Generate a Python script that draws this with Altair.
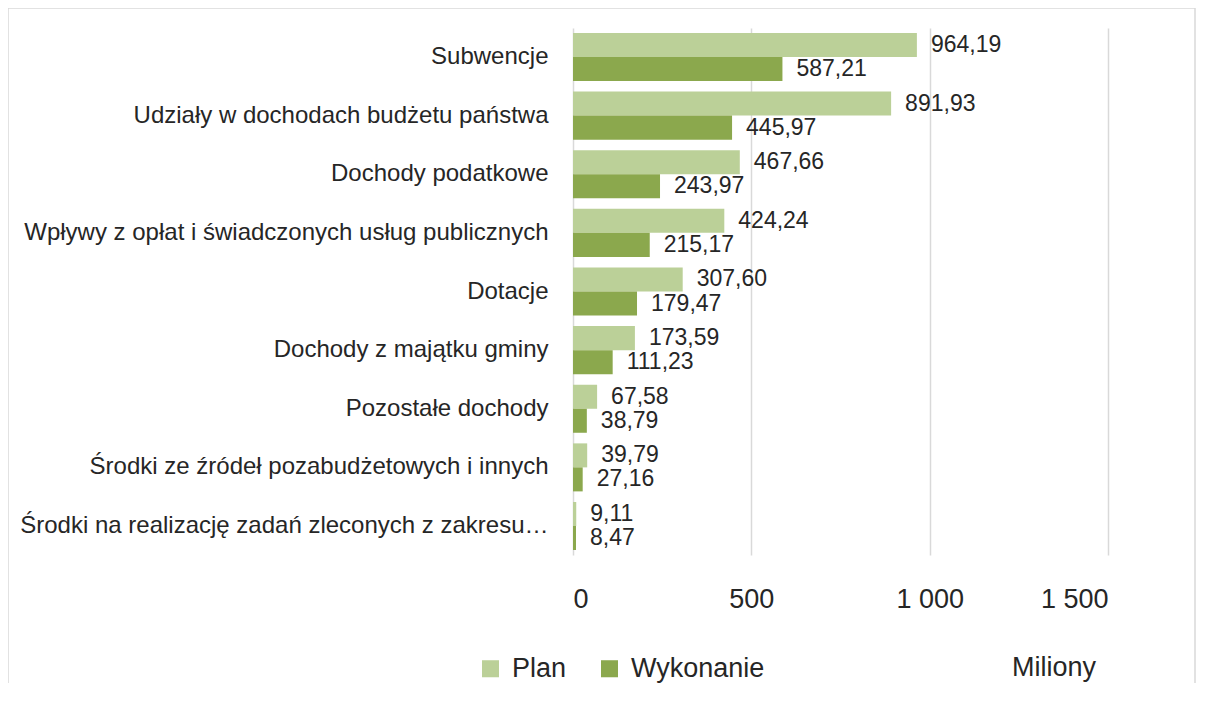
import altair as alt
import pandas as pd

categories = [
    "Subwencje",
    "Udziały w dochodach budżetu państwa",
    "Dochody podatkowe",
    "Wpływy z opłat i świadczonych usług publicznych",
    "Dotacje",
    "Dochody z majątku gminy",
    "Pozostałe dochody",
    "Środki ze źródeł pozabudżetowych i innych",
    "Środki na realizację zadań zleconych z zakresu…",
]
plan = [964.19, 891.93, 467.66, 424.24, 307.60, 173.59, 67.58, 39.79, 9.11]
wykonanie = [587.21, 445.97, 243.97, 215.17, 179.47, 111.23, 38.79, 27.16, 8.47]
series = ["Plan", "Wykonanie"]
colors = ["#BBD098", "#8BA84D"]
x_ticks = [0, 500, 1000, 1500]

rows = []
for c, p, w in zip(categories, plan, wykonanie):
    rows.append({"category": c, "series": "Plan", "value": p})
    rows.append({"category": c, "series": "Wykonanie", "value": w})
df = pd.DataFrame(rows)

FONT = "Liberation Sans"
TXT = "#262626"

x_enc = alt.X(
    "value:Q",
    scale=alt.Scale(domain=[0, 1500], nice=False),
    axis=alt.Axis(
        values=x_ticks,
        title=None,
        grid=True,
        gridColor="#D9D9D9",
        gridWidth=1.5,
        domain=False,
        ticks=False,
        labelFont=FONT,
        labelFontSize=27,
        labelColor=TXT,
        labelBaseline="alphabetic",
        labelPadding=52,
        labelExpr="replace(format(datum.value, ','), ',', ' ')",
    ),
)
y_enc = alt.Y(
    "category:N",
    sort=categories,
    scale=alt.Scale(paddingInner=0.181, paddingOuter=0.085),
    axis=alt.Axis(
        title=None,
        domain=False,
        ticks=False,
        grid=False,
        labelFont=FONT,
        labelFontSize=24,
        labelColor=TXT,
        labelPadding=25,
        labelLimit=600,
    ),
)
yoff_enc = alt.YOffset(
    "series:N", sort=series, scale=alt.Scale(domain=series, paddingInner=0, paddingOuter=0)
)

base = alt.Chart(df)

bars = base.mark_bar().encode(
    x=x_enc,
    y=y_enc,
    yOffset=yoff_enc,
    color=alt.Color(
        "series:N",
        scale=alt.Scale(domain=series, range=colors),
        legend=alt.Legend(
            title=None,
            orient="none",
            legendX=-96,
            legendY=627,
            direction="horizontal",
            symbolType="square",
            symbolSize=290,
            symbolStrokeWidth=0,
            labelFont=FONT,
            labelFontSize=27,
            labelColor=TXT,
            labelOffset=8,
            columnPadding=29,
        ),
    ),
)

labels = base.transform_calculate(
    label="replace(format(datum.value, '.2f'), '.', ',')"
).mark_text(align="left", baseline="middle", dx=14, font=FONT, fontSize=23, color=TXT).encode(
    x=alt.X("value:Q"),
    y=alt.Y("category:N", sort=categories),
    yOffset=alt.YOffset("series:N", sort=series),
    text="label:N",
)

one = pd.DataFrame({"a": [1]})
miliony = alt.Chart(one).mark_text(
    align="center", baseline="alphabetic", font=FONT, fontSize=27, color=TXT
).encode(x=alt.value(481), y=alt.value(648), text=alt.value("Miliony"))

border_style = dict(color="#D9D9D9", strokeWidth=1.5)
border_top = alt.Chart(one).mark_rule(**border_style).encode(
    x=alt.value(-565), x2=alt.value(622), y=alt.value(-20)
)
border_left = alt.Chart(one).mark_rule(**border_style).encode(
    x=alt.value(-565), y=alt.value(-20), y2=alt.value(700)
)
border_right = alt.Chart(one).mark_rule(**border_style).encode(
    x=alt.value(622), y=alt.value(-20), y2=alt.value(700)
)

chart = (
    alt.layer(border_top, border_left, border_right, bars, labels, miliony)
    .properties(
        width=535,
        height=527,
        background="white",
        autosize=alt.AutoSizeParams(type="none"),
        padding={"left": 565, "top": 20, "right": 88, "bottom": 128},
    )
    .configure_view(strokeWidth=0, stroke="transparent")
    .configure_axis(domain=False, ticks=False)
)

chart.save("out.html", embed_options={"renderer": "svg", "actions": False})
